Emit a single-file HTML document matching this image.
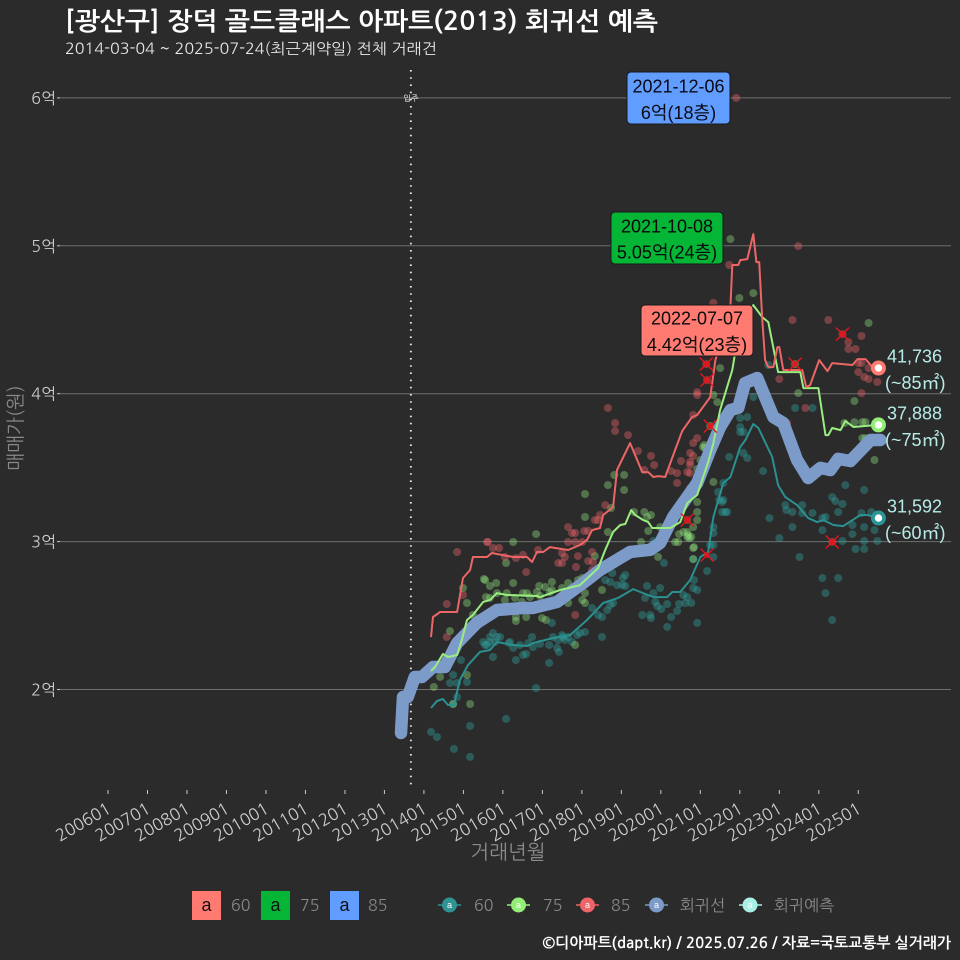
<!DOCTYPE html>
<html lang="ko">
<head>
<meta charset="utf-8">
<title>장덕 골드클래스 아파트 회귀선 예측</title>
<style>
html,body{margin:0;padding:0;background:#2b2b2c;}
svg{display:block;}
text{font-family:"NanumGothic","Noto Sans CJK KR",sans-serif;}
.lbl{font-family:"Liberation Sans","Noto Sans CJK KR",sans-serif;}
</style>
</head>
<body>
<svg id="chart" xmlns="http://www.w3.org/2000/svg" width="960" height="960" viewBox="0 0 960 960">
  <rect x="0" y="0" width="960" height="960" fill="#2b2b2c"/>
  <text x="65" y="30" font-size="25" font-weight="700" fill="#ffffff" textLength="593" lengthAdjust="spacingAndGlyphs">[광산구] 장덕 골드클래스 아파트(2013) 회귀선 예측</text>
  <text x="65" y="54" font-size="15" fill="#e8e8e8" textLength="372" lengthAdjust="spacingAndGlyphs">2014-03-04 ~ 2025-07-24(최근계약일) 전체 거래건</text>
  <g id="grid"></g>
  <g id="xaxis"></g>
  <g id="yaxis"></g>
  <text x="0" y="0" transform="translate(22,428) rotate(-90)" text-anchor="middle" font-size="19" fill="#8a8a8a">매매가(원)</text>
  <text x="508" y="859" text-anchor="middle" font-size="20" fill="#8a8a8a">거래년월</text>
  <g id="movein"></g>
  <g id="dots"></g>
  <g id="reg"></g>
  <g id="lines"></g>
  <g id="crosses"></g>
  <g id="ends"></g>

  <g>
    <rect x="627" y="72" width="103" height="52" rx="4" fill="#619cff" stroke="#16181c" stroke-width="1"/>
    <text class="lbl" x="678.5" y="92.5" text-anchor="middle" font-size="18" fill="#0a0a14">2021-12-06</text>
    <text class="lbl" x="678.5" y="119" text-anchor="middle" font-size="18" fill="#0a0a14">6억(18층)</text>
  </g>
  <g>
    <rect x="611" y="212" width="112" height="52" rx="4" fill="#05b536" stroke="#16181c" stroke-width="1"/>
    <text class="lbl" x="667" y="232.5" text-anchor="middle" font-size="18" fill="#0a0a0a">2021-10-08</text>
    <text class="lbl" x="667" y="258.5" text-anchor="middle" font-size="18" fill="#0a0a0a">5.05억(24층)</text>
  </g>
  <g>
    <rect x="641" y="305" width="112" height="51" rx="4" fill="#ff7b72" stroke="#16181c" stroke-width="1"/>
    <text class="lbl" x="697" y="324.5" text-anchor="middle" font-size="18" fill="#0a0a0a">2022-07-07</text>
    <text class="lbl" x="697" y="351" text-anchor="middle" font-size="18" fill="#0a0a0a">4.42억(23층)</text>
  </g>

  <g fill="#b6ece6" font-size="18">
    <text class="lbl" x="887" y="362.5">41,736</text>
    <text class="lbl" x="885" y="389">(~85㎡)</text>
    <text class="lbl" x="887" y="419.5">37,888</text>
    <text class="lbl" x="885" y="446">(~75㎡)</text>
    <text class="lbl" x="887" y="512.5">31,592</text>
    <text class="lbl" x="885" y="539">(~60㎡)</text>
  </g>

  <g>
    <rect x="192" y="891" width="29" height="29" fill="#ff7b72"/>
    <text class="lbl" x="206.5" y="911" text-anchor="middle" font-size="18" fill="#111">a</text>
    <text x="231" y="911" font-size="16" fill="#8a8a8a">60</text>
    <rect x="261" y="891" width="29" height="29" fill="#05b536"/>
    <text class="lbl" x="275.5" y="911" text-anchor="middle" font-size="18" fill="#111">a</text>
    <text x="300" y="911" font-size="16" fill="#8a8a8a">75</text>
    <rect x="330" y="891" width="29" height="29" fill="#619cff"/>
    <text class="lbl" x="344.5" y="911" text-anchor="middle" font-size="18" fill="#111">a</text>
    <text x="368" y="911" font-size="16" fill="#8a8a8a">85</text>
  </g>
  <g>
    <line x1="438" y1="905" x2="461" y2="905" stroke="#2f9393" stroke-width="1.6"/>
    <circle cx="449.5" cy="905" r="7.5" fill="#2f9393"/>
    <text class="lbl" x="449.5" y="908" text-anchor="middle" font-size="9" fill="#fff">a</text>
    <text x="474" y="911" font-size="16" fill="#8a8a8a">60</text>
    <line x1="507" y1="905" x2="530" y2="905" stroke="#93ee78" stroke-width="1.6"/>
    <circle cx="518.5" cy="905" r="7.5" fill="#93ee78"/>
    <text class="lbl" x="518.5" y="908" text-anchor="middle" font-size="9" fill="#fff">a</text>
    <text x="543" y="911" font-size="16" fill="#8a8a8a">75</text>
    <line x1="576" y1="905" x2="599" y2="905" stroke="#ee6468" stroke-width="1.6"/>
    <circle cx="587.5" cy="905" r="7.5" fill="#ee6468"/>
    <text class="lbl" x="587.5" y="908" text-anchor="middle" font-size="9" fill="#fff">a</text>
    <text x="611" y="911" font-size="16" fill="#8a8a8a">85</text>
    <line x1="645" y1="905" x2="668" y2="905" stroke="#7d9bc9" stroke-width="1.6"/>
    <circle cx="656.5" cy="905" r="7.5" fill="#7d9bc9"/>
    <text class="lbl" x="656.5" y="908" text-anchor="middle" font-size="9" fill="#fff">a</text>
    <text x="680" y="911" font-size="16" fill="#8a8a8a">회귀선</text>
    <line x1="739" y1="905" x2="762" y2="905" stroke="#a8efe4" stroke-width="1.6"/>
    <circle cx="750" cy="905" r="7.5" fill="#a8efe4"/>
    <text class="lbl" x="750" y="908" text-anchor="middle" font-size="9" fill="#fff">a</text>
    <text x="774" y="911" font-size="16" fill="#8a8a8a">회귀예측</text>
  </g>
  <text x="951" y="948" text-anchor="end" font-size="15" font-weight="700" fill="#ffffff">©디아파트(dapt.kr) / 2025.07.26 / 자료=국토교통부 실거래가</text>
</svg>
<script>
const xTickLabels = ["200601","200701","200801","200901","201001","201101","201201","201301","201401","201501","201601","201701","201801","201901","202001","202101","202201","202301","202401","202501"];
const yTickValues = [20000,30000,40000,50000,60000];
const yTickLabels = ["2억","3억","4억","5억","6억"];
const moveInYear = 2013.67;

const regressionLine = [[2013.42,17060],[2013.47,19490],[2013.59,19490],[2013.77,20845],[2013.95,20845],[2014.23,21520],[2014.53,21520],[2014.84,23140],[2015.34,24500],[2015.85,25375],[2016.51,25510],[2016.76,25510],[2017.37,25920],[2018.03,27200],[2018.46,28080],[2019.22,29300],[2019.73,29445],[2019.98,29905],[2020.31,31660],[2020.92,33960],[2021.25,36190],[2021.50,37750],[2021.76,38890],[2021.96,39050],[2022.13,40720],[2022.44,41060],[2022.85,38420],[2023.10,38020],[2023.45,35520],[2023.73,34300],[2024.04,34980],[2024.29,34840],[2024.49,35590],[2024.80,35450],[2025.31,36870],[2025.56,36870]];

const line85 = [[2014.18,23550],[2014.23,24900],[2014.41,25240],[2014.84,25240],[2014.99,27540],[2015.17,28080],[2015.24,28960],[2015.60,28960],[2015.72,29230],[2016.26,28960],[2016.61,28960],[2016.74,28620],[2016.86,29300],[2017.02,29300],[2017.19,29630],[2017.65,29430],[2017.95,29770],[2018.13,30110],[2018.26,30780],[2018.46,30920],[2018.54,31800],[2018.79,32340],[2018.89,34840],[2019.22,36660],[2019.53,34700],[2019.68,34700],[2019.81,34370],[2019.93,34430],[2020.11,34370],[2020.36,36190],[2020.54,37480],[2020.79,38420],[2020.92,38560],[2021.25,39770],[2021.38,42270],[2021.76,45860],[2021.81,48700],[2021.96,48700],[2022.01,49030],[2022.19,49100],[2022.34,50790],[2022.42,48900],[2022.49,48900],[2022.57,44980],[2022.64,42270],[2022.72,41800],[2022.85,41800],[2022.95,43150],[2023.00,43150],[2023.10,41600],[2023.58,41600],[2023.68,40450],[2023.78,40580],[2024.01,42270],[2024.22,41530],[2024.34,42070],[2024.85,41940],[2024.98,42340],[2025.18,42340],[2025.36,41800],[2025.49,41736]];

const line75 = [[2014.18,21250],[2014.28,21520],[2014.48,22400],[2014.61,22200],[2014.84,22330],[2014.96,23350],[2015.09,24700],[2015.24,25040],[2015.50,25920],[2015.67,26050],[2015.85,26520],[2016.10,26390],[2016.86,26320],[2016.94,26250],[2017.45,26730],[2017.95,27060],[2018.41,28210],[2018.59,29430],[2018.79,30650],[2018.97,31120],[2019.10,31190],[2019.25,32130],[2019.35,31800],[2019.55,31460],[2019.68,31320],[2019.78,30920],[2020.24,30920],[2020.49,31320],[2020.67,32610],[2020.92,33150],[2021.20,35380],[2021.33,36660],[2021.50,38890],[2021.81,41600],[2021.88,42750],[2022.34,45990],[2022.57,45180],[2022.72,44840],[2022.97,41460],[2023.53,41460],[2023.61,40380],[2023.99,40380],[2024.17,37200],[2024.24,37200],[2024.34,37680],[2024.55,37540],[2024.67,38150],[2024.88,37750],[2025.49,37888]];

const line60 = [[2014.18,18750],[2014.33,19220],[2014.48,19360],[2014.61,18950],[2014.76,18950],[2014.91,20640],[2015.12,21660],[2015.42,22540],[2015.67,22670],[2015.85,23210],[2016.26,23010],[2016.61,22940],[2016.76,23140],[2017.27,23480],[2017.70,23680],[2018.13,24700],[2018.54,25850],[2018.92,26190],[2019.30,26790],[2019.48,26590],[2019.81,26250],[2020.16,26250],[2020.29,26590],[2020.49,26590],[2020.74,27400],[2021.00,28960],[2021.20,29300],[2021.33,31660],[2021.58,33960],[2021.76,34370],[2022.01,36390],[2022.14,36870],[2022.34,37950],[2022.47,37680],[2022.82,35720],[2022.97,33820],[2023.15,33010],[2023.45,32470],[2023.73,31590],[2023.96,31320],[2024.11,31460],[2024.37,31120],[2024.62,31050],[2025.05,31800],[2025.23,31800],[2025.49,31592]];

const dots60 = [[2014.18,17130],[2014.33,16790],[2014.76,15980],[2015.17,15440],[2015.17,17530],[2016.08,18010],[2014.74,19020],[2014.84,19490],[2014.66,20440],[2014.84,20440],[2015.09,20510],[2014.74,20980],[2014.94,21990],[2015.75,22200],[2016.33,21990],[2015.50,23210],[2015.60,23010],[2015.67,23550],[2015.75,23820],[2015.85,23550],[2015.67,23210],[2015.80,23210],[2015.55,23010],[2016.18,23210],[2016.26,22810],[2016.43,23010],[2016.51,22330],[2015.93,23550],[2016.15,23140],[2016.59,22400],[2016.74,23550],[2016.76,22870],[2016.84,20100],[2017.17,21790],[2017.17,23010],[2017.27,23550],[2017.37,22810],[2017.42,22540],[2017.50,23680],[2017.57,23350],[2017.65,23550],[2017.75,23210],[2017.88,23680],[2017.95,23820],[2018.08,23890],[2017.52,23550],[2017.40,23350],[2016.94,23080],[2016.64,23140],[2018.51,23550],[2018.26,25510],[2018.41,25040],[2018.51,24900],[2018.64,25370],[2018.72,25710],[2018.79,25850],[2018.59,27400],[2018.72,27270],[2018.77,27880],[2019.10,27740],[2018.89,27060],[2019.02,27060],[2019.10,27000],[2017.24,24500],[2019.04,27540],[2019.53,25040],[2019.73,25040],[2019.75,24830],[2020.16,24230],[2020.26,24900],[2020.92,24500],[2020.41,25310],[2020.16,25780],[2020.01,25440],[2019.91,25640],[2019.86,25920],[2019.98,26860],[2019.65,27000],[2019.60,26190],[2019.81,26520],[2020.57,26390],[2020.67,26250],[2020.62,25850],[2020.77,25850],[2020.46,25780],[2020.84,27400],[2020.82,26860],[2020.92,26730],[2020.82,28820],[2021.17,28010],[2020.08,28550],[2019.81,30040],[2021.33,28960],[2021.25,29770],[2021.33,29770],[2021.33,30980],[2021.33,30580],[2021.63,32000],[2021.55,32680],[2021.48,32810],[2022.01,38350],[2022.19,38420],[2022.01,37750],[2022.01,37410],[2022.09,37410],[2022.34,39770],[2021.73,35720],[2022.09,35990],[2022.19,35650],[2022.59,34770],[2021.58,33960],[2021.45,33350],[2021.58,32810],[2021.55,32000],[2021.68,32000],[2022.75,31590],[2023.15,32470],[2023.18,32130],[2023.33,32000],[2023.58,32470],[2023.58,31930],[2023.84,31930],[2022.72,41940],[2023.40,39030],[2023.84,39030],[2023.00,30240],[2023.51,28960],[2023.33,30980],[2024.09,30780],[2024.09,31590],[2024.17,31660],[2024.34,33010],[2024.42,32740],[2024.60,32540],[2024.49,32000],[2024.67,33820],[2025.15,33490],[2025.08,31930],[2025.33,32000],[2024.85,31120],[2025.15,30980],[2025.41,30780],[2024.85,30510],[2024.60,30040],[2025.15,30040],[2025.48,30040],[2024.93,29500],[2025.15,29500],[2024.09,27540],[2024.49,27540],[2024.17,26520],[2024.34,24700]];

const dots75 = [[2014.66,23950],[2014.25,20170],[2015.17,19020],[2015.09,25850],[2015.24,25040],[2015.09,20980],[2014.41,20850],[2014.51,21990],[2014.74,19020],[2014.99,26860],[2015.52,27470],[2015.55,27400],[2015.83,27200],[2015.67,27000],[2016.26,27200],[2016.26,29970],[2016.08,28550],[2016.84,30510],[2018.08,33220],[2018.66,33820],[2019.07,33490],[2018.08,31660],[2018.66,30650],[2015.57,26250],[2015.67,26190],[2015.85,26520],[2016.05,26050],[2016.10,26520],[2016.31,26190],[2016.51,26520],[2016.48,25920],[2016.61,26520],[2016.86,26590],[2016.92,27000],[2017.07,26930],[2017.24,27270],[2017.24,26730],[2017.50,26860],[2017.65,27200],[2017.90,27400],[2018.01,27540],[2018.08,26520],[2017.65,25850],[2018.01,26050],[2018.08,25850],[2018.51,26730],[2016.33,24900],[2016.33,24630],[2016.59,24900],[2016.99,24830],[2017.09,24700],[2017.83,23010],[2016.94,26320],[2017.19,26590],[2016.69,26250],[2017.70,26730],[2018.82,34500],[2019.07,34500],[2018.74,32270],[2019.32,32000],[2019.58,32000],[2019.65,31660],[2019.75,31800],[2019.98,30980],[2019.68,30720],[2019.50,29970],[2018.33,29020],[2020.36,29970],[2020.44,29970],[2020.46,30510],[2020.57,30650],[2020.67,30650],[2020.67,30310],[2020.77,30310],[2020.82,30980],[2020.92,32000],[2020.84,29630],[2021.00,35510],[2020.92,34910],[2021.10,36530],[2021.12,36330],[2020.82,28820],[2019.93,28960],[2020.69,30440],[2020.72,30240],[2020.82,29570],[2020.92,31460],[2020.92,32680],[2021.50,41730],[2021.07,36390],[2021.33,34030],[2021.43,39430],[2021.33,39910],[2021.25,37810],[2023.48,40040],[2024.90,39500],[2025.26,44780],[2024.90,38080],[2024.65,38020],[2025.10,38080],[2025.18,38080],[2025.10,37000],[2025.18,37000],[2025.41,35520],[2021.76,50450],[2021.99,46470],[2022.34,46800],[2023.40,42000]];

const dots85 = [[2014.84,29300],[2014.58,25780],[2014.58,23550],[2014.99,26390],[2015.60,29970],[2015.62,29970],[2015.75,29570],[2015.90,29570],[2016.05,28960],[2016.33,28890],[2016.51,29100],[2016.59,27940],[2016.89,29430],[2017.50,29230],[2017.57,28960],[2017.40,28550],[2017.50,28550],[2017.90,29020],[2017.85,28280],[2017.65,30980],[2017.75,30580],[2017.83,30580],[2017.65,29970],[2017.83,29970],[2018.01,29970],[2018.06,30720],[2018.16,30720],[2018.26,29300],[2018.16,28690],[2018.28,28620],[2018.26,28080],[2018.33,31460],[2018.41,31460],[2018.46,31800],[2018.59,32470],[2017.83,25040],[2020.41,33960],[2018.66,39030],[2018.84,38020],[2018.84,37480],[2019.17,37200],[2019.42,36120],[2019.75,35790],[2019.83,35180],[2019.58,34840],[2020.51,35450],[2020.74,35990],[2020.82,35790],[2020.74,35380],[2020.74,35180],[2020.67,34700],[2020.74,34630],[2020.41,34630],[2020.26,34770],[2020.74,33620],[2020.82,38560],[2020.92,40110],[2020.92,39910],[2020.82,36660],[2020.92,37000],[2023.00,40990],[2023.20,38020],[2023.66,39030],[2021.73,48700],[2021.33,46140],[2023.33,44980],[2024.24,44980],[2025.08,43900],[2024.75,43490],[2024.93,43020],[2024.75,43020],[2025.00,42070],[2025.08,42070],[2025.00,41460],[2025.15,41130],[2025.26,40990],[2025.26,41730],[2025.48,40790],[2025.08,40040],[2023.48,49980],[2021.91,60000],[2021.17,40920],[2021.15,42000],[2024.60,44030],[2024.34,29970],[2020.67,31460]];

const crossPoints = [[2021.15,42000],[2021.17,40920],[2021.25,37810],[2020.67,31460],[2021.17,29090],[2023.40,42000],[2024.60,44030],[2024.34,29970]];
const endYear = 2025.51;
const endValue60 = 31592;
const endValue75 = 37888;
const endValue85 = 41736;

const NS = "http://www.w3.org/2000/svg";
function xScale(year){ return 108 + (year - 2006) * 39.49; }
function yScale(value){ return 689.5 - (value - 20000) / 10000 * 147.9; }
function make(tag, parent){
  const el = document.createElementNS(NS, tag);
  document.getElementById(parent).appendChild(el);
  return el;
}
function pathFrom(points){
  return points.map(function(p, i){ return (i ? "L" : "M") + xScale(p[0]).toFixed(1) + " " + yScale(p[1]).toFixed(1); }).join(" ");
}

yTickValues.forEach(function(v, i){
  const y = yScale(v);
  const g = make("line", "grid");
  
  
  g.setAttribute("x1", 60); g.setAttribute("x2", 951);
  g.setAttribute("y1", y); g.setAttribute("y2", y);
  g.setAttribute("stroke", "#6e6e6e"); g.setAttribute("stroke-width", 1);
  const t = make("line", "yaxis");
  
  
  t.setAttribute("x1", 57); t.setAttribute("x2", 60);
  t.setAttribute("y1", y); t.setAttribute("y2", y);
  t.setAttribute("stroke", "#cccccc");
  const l = make("text", "yaxis");
  
  
  l.setAttribute("x", 56); l.setAttribute("y", y + 6);
  l.setAttribute("text-anchor", "end");
  l.setAttribute("font-size", 16); l.setAttribute("fill", "#cfcfcf");
  l.textContent = yTickLabels[i];
});

xTickLabels.forEach(function(lab){
  const year = parseInt(lab.slice(0, 4), 10) + (parseInt(lab.slice(4), 10) - 1) / 12;
  const x = xScale(year);
  const t = make("line", "xaxis");
  
  
  t.setAttribute("x1", x); t.setAttribute("x2", x);
  t.setAttribute("y1", 790); t.setAttribute("y2", 794);
  t.setAttribute("stroke", "#cccccc");
  const l = make("text", "xaxis");
  
  
  l.setAttribute("text-anchor", "end");
  l.setAttribute("transform", "translate(" + (x + 4) + ",812) rotate(-30)");
  l.setAttribute("font-size", 16.5); l.setAttribute("fill", "#cfcfcf");
  l.textContent = lab;
});

const mv = make("line", "movein");


mv.setAttribute("x1", xScale(moveInYear)); mv.setAttribute("x2", xScale(moveInYear));
mv.setAttribute("y1", 70); mv.setAttribute("y2", 790);
mv.setAttribute("stroke", "#dddddd"); mv.setAttribute("stroke-width", 2);
mv.setAttribute("stroke-dasharray", "1.6 5.6");
const mvText = make("text", "movein");


mvText.setAttribute("x", xScale(moveInYear)); mvText.setAttribute("y", 101);
mvText.setAttribute("text-anchor", "middle");
mvText.setAttribute("font-size", 8); mvText.setAttribute("fill", "#ffffff");
mvText.textContent = "입주";

function drawDots(data, color, name){
  data.forEach(function(p){
    const c = make("circle", "dots");
    
    
    c.setAttribute("cx", xScale(p[0]).toFixed(1));
    c.setAttribute("cy", yScale(p[1]).toFixed(1));
    c.setAttribute("r", 4);
    c.setAttribute("fill", color);
    c.setAttribute("fill-opacity", 0.4);
  });
}
drawDots(dots60, "#2fa5a0", "point-60");
drawDots(dots75, "#8fe07a", "point-75");
drawDots(dots85, "#ee6468", "point-85");

const regPath = make("path", "reg");


regPath.setAttribute("d", pathFrom(regressionLine));
regPath.setAttribute("fill", "none");
regPath.setAttribute("stroke", "#7d9bc9");
regPath.setAttribute("stroke-width", 12.5);
regPath.setAttribute("stroke-linecap", "round");
regPath.setAttribute("stroke-linejoin", "round");

function drawLine(data, color, name){
  const p = make("path", "lines");
  
  
  p.setAttribute("d", pathFrom(data));
  p.setAttribute("fill", "none");
  p.setAttribute("stroke", color);
  p.setAttribute("stroke-width", 2);
  p.setAttribute("stroke-linejoin", "round");
}
drawLine(line60, "#2b9090", "line-60");
drawLine(line75, "#9aee80", "line-75");
drawLine(line85, "#ec6666", "line-85");

crossPoints.forEach(function(p){
  const cx = xScale(p[0]);
  const cy = yScale(p[1]);
  const x1 = make("path", "crosses");
  
  
  x1.setAttribute("d", "M" + (cx - 6.5) + " " + (cy - 6.5) + "L" + (cx + 6.5) + " " + (cy + 6.5) + "M" + (cx - 6.5) + " " + (cy + 6.5) + "L" + (cx + 6.5) + " " + (cy - 6.5));
  x1.setAttribute("stroke", "#e8141c");
  x1.setAttribute("stroke-width", 1.4);
  const d = make("circle", "crosses");
  
  
  d.setAttribute("cx", cx); d.setAttribute("cy", cy);
  d.setAttribute("r", 3);
  d.setAttribute("fill", "#e8141c");
  d.setAttribute("fill-opacity", 0.8);
});

function drawEnd(value, color, name){
  const o = make("circle", "ends");
  
  
  o.setAttribute("cx", xScale(endYear)); o.setAttribute("cy", yScale(value));
  o.setAttribute("r", 7.5);
  o.setAttribute("fill", color);
  const i = make("circle", "ends");
  
  
  i.setAttribute("cx", xScale(endYear)); i.setAttribute("cy", yScale(value));
  i.setAttribute("r", 3.7);
  i.setAttribute("fill", "#ffffff");
}
drawEnd(endValue60, "#2b9595", "end-marker-60");
drawEnd(endValue75, "#93ee78", "end-marker-75");
drawEnd(endValue85, "#ff7b72", "end-marker-85");
</script>
</body>
</html>
